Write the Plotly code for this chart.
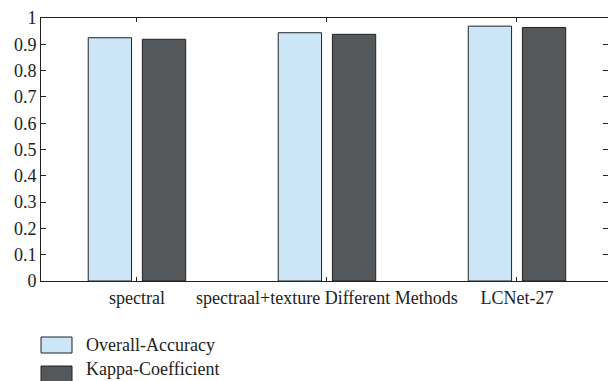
import plotly.graph_objects as go

categories = ["spectral", "spectraal+texture", "LCNet-27"]
tick_labels = ["spectral", "spectraal+texture Different Methods", "LCNet-27"]
series_names = ["Overall-Accuracy", "Kappa-Coefficient"]
overall_accuracy = [0.925, 0.944, 0.969]
kappa_coefficient = [0.919, 0.938, 0.964]
colors = ["#cde6f7", "#54585b"]
y_ticks = [0, 0.1, 0.2, 0.3, 0.4, 0.5, 0.6, 0.7, 0.8, 0.9, 1]
y_tick_text = ["0", "0.1", "0.2", "0.3", "0.4", "0.5", "0.6", "0.7", "0.8", "0.9", "1"]

FONT = "Liberation Serif"
FS = 18
fig = go.Figure()
for name, vals, col in zip(series_names, [overall_accuracy, kappa_coefficient], colors):
    fig.add_trace(go.Bar(
        x=list(range(len(categories))), y=vals, name=name,
        marker=dict(color=col, line=dict(color="#222222", width=1)),
        showlegend=False,
    ))

W, H = 608, 381
ml, mr, mt, mb = 41, 0, 18, 100
fig.update_layout(
    width=W, height=H,
    margin=dict(l=ml, r=mr, t=mt, b=mb, autoexpand=False),
    barmode="group", bargap=0.43, bargroupgap=0.2,
    paper_bgcolor="white", plot_bgcolor="white",
    font=dict(family=FONT, size=FS, color="#222222"),
)
fig.update_xaxes(
    range=[-0.505, 2.479], tickvals=list(range(len(categories))), ticktext=tick_labels,
    ticks="inside", ticklen=4, tickcolor="#222222", showline=True, linecolor="#222222",
    linewidth=1, mirror="ticks", showgrid=False, zeroline=False, automargin=False,
    tickfont=dict(family=FONT, size=FS),
)
fig.update_yaxes(
    range=[0, 1], tickvals=y_ticks, ticktext=y_tick_text,
    ticks="inside", ticklen=5, tickcolor="#222222", showline=True, linecolor="#222222",
    linewidth=1, mirror="ticks", showgrid=False, zeroline=False, automargin=False,
    tickfont=dict(family=FONT, size=FS),
)

# legend drawn as boxes + text below the plot (paper coords)
ph = H - mt - mb
pw = W - ml - mr
def px_x(x):
    return (x - ml) / pw
def px_y(y):
    return (H - mb - y) / ph

legend_box_rows = [345, 374]
legend_text_rows = [345, 369]
for name, col, yb, yt in zip(series_names, colors, legend_box_rows, legend_text_rows):
    fig.add_shape(type="rect", xref="paper", yref="paper",
                  x0=px_x(41), x1=px_x(72), y0=px_y(yb + 8), y1=px_y(yb - 8),
                  fillcolor=col, line=dict(color="#222222", width=1))
    fig.add_annotation(xref="paper", yref="paper", x=px_x(84), y=px_y(yt),
                       text=name, showarrow=False, xanchor="left", yanchor="middle",
                       font=dict(family=FONT, size=FS, color="#222222"))

fig.write_html("out.html", config={"displayModeBar": False},
               post_script="document.body.style.margin='0';document.body.style.overflow='hidden';")
